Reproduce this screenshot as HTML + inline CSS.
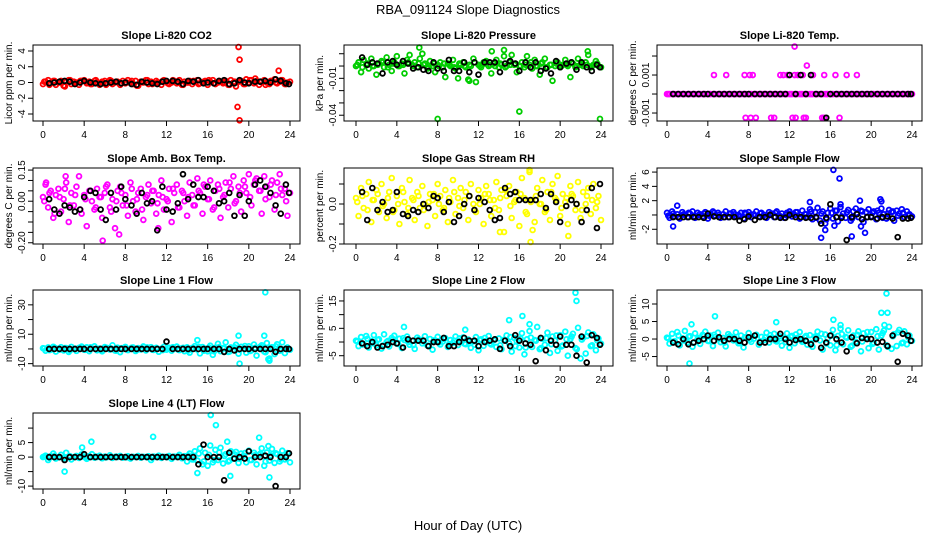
<!DOCTYPE html>
<html><head><meta charset="utf-8">
<style>
body{margin:0;background:#fff;}
svg{display:block;font-family:"Liberation Sans",sans-serif;}
</style></head>
<body>
<svg id="chart" width="936" height="540" viewBox="0 0 936 540" xmlns="http://www.w3.org/2000/svg">
<rect width="936" height="540" fill="#fff"/>
<text x="468" y="14" text-anchor="middle" font-size="13">RBA_091124  Slope Diagnostics</text>
<text x="468" y="530" text-anchor="middle" font-size="13">Hour of Day (UTC)</text>
<g id="panels"></g>
</svg>
<script>
// shared x data
const colorTimes = [0,0.25,0.5,0.75,1,1.25,1.5,1.75,2,2.25,2.5,2.75,3,3.25,3.5,3.75,4,4.25,4.5,4.75,5,5.25,5.5,5.75,6,6.25,6.5,6.75,7,7.25,7.5,7.75,8,8.25,8.5,8.75,9,9.25,9.5,9.75,10,10.25,10.5,10.75,11,11.25,11.5,11.75,12,12.25,12.5,12.75,13,13.25,13.5,13.75,14,14.25,14.5,14.75,15,15.25,15.5,15.75,16,16.25,16.5,16.75,17,17.25,17.5,17.75,18,18.25,18.5,18.75,19,19.25,19.5,19.75,20,20.25,20.5,20.75,21,21.25,21.5,21.75,22,22.25,22.5,22.75,23,23.25,23.5,23.75,24];
const colorTimes2 = [0.125,0.625,1.125,1.625,2.125,2.625,3.125,3.625,4.125,4.625,5.125,5.625,6.125,6.625,7.125,7.625,8.125,8.625,9.125,9.625,10.125,10.625,11.125,11.625,12.125,12.625,13.125,13.625,14.125,14.625,15.125,15.625,16.125,16.625,17.125,17.625,18.125,18.625,19.125,19.625,20.125,20.625,21.125,21.625,22.125,22.625,23.125,23.625];
const blackTimes = [0.6,1.1,1.6,2.1,2.6,3.1,3.6,4.0,4.6,5.1,5.6,6.1,6.6,7.1,7.6,8.0,8.6,9.1,9.6,10.1,10.6,11.1,11.6,12.0,12.6,13.1,13.6,14.1,14.6,15.1,15.6,16.0,16.6,17.1,17.6,18.1,18.6,19.1,19.6,20.0,20.6,21.1,21.6,22.1,22.6,23.1,23.6,23.9];
const xTicks = [0,4,8,12,16,20,24];

// Panel 1: CO2
const co2Color = [-0.2,0.1,0.3,-0.1,0.2,-0.3,0.0,0.2,-0.4,0.1,0.3,-0.2,0.1,0.0,-0.3,0.2,0.3,-0.1,0.1,-0.2,0.2,0.0,-0.3,0.1,0.2,-0.1,0.3,-0.2,0.0,0.1,-0.3,0.2,-0.1,0.3,0.0,-0.2,0.2,-0.4,0.1,0.0,0.3,-0.2,0.1,-0.1,0.2,0.0,-0.3,0.3,0.1,-0.2,0.0,0.2,-0.1,0.3,-0.3,0.1,0.0,0.2,-0.2,0.1,0.3,-0.1,0.0,0.2,-0.3,0.1,0.3,-0.2,0.0,0.1,-0.1,0.2,-0.3,0.3,0.0,-0.5,0.1,0.2,-0.2,0.4,0.0,0.3,-0.1,0.2,-0.3,0.1,0.3,0.0,-0.2,0.2,0.4,-0.1,0.1,0.3,-0.2,0.0,0.1];
const co2Color2 = [0.1,-0.3,0.2,0.0,-0.5,0.3,-0.1,0.2,0.1,-0.2,0.3,0.0,-0.3,0.2,0.1,-0.1,0.0,0.2,-0.4,0.1,0.3,-0.2,0.0,0.2,-0.1,0.3,0.1,-0.3,0.0,0.2,-0.2,0.1,0.3,-0.1,0.2,0.0,-0.3,0.1,0.2,-0.2,0.3,0.5,0.1,-0.3,0.2,0.0,0.3,-0.2];
const co2Black = [-0.1,0.0,0.1,0.2,0.1,-0.2,0.0,0.2,0.0,-0.1,-0.2,-0.1,0.0,0.1,-0.1,0.0,-0.2,-0.3,0.1,0.0,-0.1,-0.2,0.1,0.2,0.2,0.1,-0.2,0.2,0.1,0.3,-0.1,0.0,-0.1,0.2,0.3,-0.2,-0.1,0.3,0.0,-0.1,0.1,0.1,0.2,0.0,0.4,0.2,-0.1,-0.2];
const co2OutT = [19.0,19.1,18.9,19.1,22.9];
const co2OutV = [4.5,2.9,-3.1,-4.8,1.5];

// Panel 2: Pressure
const presColor = [0,0.003,-0.005,0.005,0.001,-0.002,0.006,0,-0.007,0.002,0.004,-0.001,0.007,0.001,-0.004,0.003,0.008,0,0.002,-0.006,0.005,0.009,0.001,0.003,-0.001,0.006,0.01,0.002,-0.002,0.004,0,-0.005,0.001,0.003,-0.001,-0.009,0.002,0,0.005,-0.002,-0.01,0.001,0.003,-0.001,-0.011,0,0.006,-0.013,0.001,-0.001,0.003,0.004,0,-0.006,0.002,0.005,-0.001,0.001,0.008,0,0.003,0.009,0.001,-0.005,0,0.003,-0.001,0.008,0.001,-0.002,0.005,0,-0.007,0.003,0.006,-0.001,0.001,-0.012,0,0.003,-0.001,0.001,0.005,0,-0.009,0.002,-0.001,0.006,0.001,0,0.003,0.009,-0.001,0.001,0.004,0,-0.001];
const presColor2 = [0.001,-0.001,0.002,0.0,0.001,0.003,-0.001,0.002,0.0,0.001,0.003,0.0,0.002,0.001,-0.001,0.002,0.0,0.002,0.001,-0.001,0.002,0.0,0.001,0.003,0.0,0.002,0.001,0.0,0.002,-0.001,0.001,0.002,0.0,0.001,0.003,0.0,0.002,-0.001,0.001,0.002,0.0,0.001,0.003,0.0,0.002,0.001,0.0,0.002];
const presBlack = [0.007,0.001,0.003,0.002,-0.006,0.003,0.004,0.001,0.004,0.002,-0.002,-0.001,-0.003,-0.004,0.003,-0.002,-0.004,0.005,-0.004,-0.004,0.003,-0.005,0.003,-0.007,0.003,0.003,0.003,-0.005,0.002,0.004,0.002,-0.004,0.003,-0.001,0.003,-0.004,-0.002,-0.006,0.004,-0.001,0.002,0.003,-0.003,0.003,-0.001,-0.004,0.001,-0.001];
const presOutT = [8.0,16.0,23.9,6.2,22.7,11.1,13.3,14.5];
const presOutV = [-0.043,-0.037,-0.043,0.015,0.012,-0.012,0.012,0.013];

// Panel 3: Li-820 Temp
const tempColor = [0,0,0,0,0,0,0,0,0,0,0,0,0,0,0,0,0,0,0,0,0,0,0,0,0,0,0,0,0,0,0,0,0,0,0,0,0,0,0,0,0,0,0,0,0,0,0,0,0,0,0,0,0,0,0,0,0,0,0,0,0,0,0,0,0,0,0,0,0,0,0,0,0,0,0,0,0,0,0,0,0,0,0,0,0,0,0,0,0,0,0,0,0,0,0,0,0];
const tempColor2 = [0,0,0,0,0,0,0,0,0,0,0,0,0,0,0,0,0,0,0,0,0,0,0,0,0,0,0,0,0,0,0,0,0,0,0,0,0,0,0,0,0,0,0,0,0,0,0,0];
const tempBlack = [0,0,0,0,0,0,0,0,0,0,0,0,0,0,0,0,0,0,0,0,0,0,0,0.001,0,0.001,0,0.001,0,0,-0.00125,0,0,0,0,0,0,0,0,0,0,0,0,0,0,0,0,0];
const tempOutT = [4.6,5.8,7.6,8.1,8.4,11.1,11.4,11.8,12.5,12.8,13.3,14.3,15.4,16.5,17.6,18.6,7.7,8.2,8.7,10.2,10.5,12.3,12.6,13.4,13.6,15.2,15.4,16.9,12.5,13.7];
const tempOutV = [0.001,0.001,0.001,0.001,0.001,0.001,0.001,0.001,0.001,0.001,0.001,0.001,0.001,0.001,0.001,0.001,-0.00125,-0.00125,-0.00125,-0.00125,-0.00125,-0.00125,-0.00125,-0.00125,-0.00125,-0.00125,-0.00125,-0.00125,0.0025,0.0015];

// Panel 4: Amb Box Temp
const ambColor = [0.02,0.08,-0.03,0.05,-0.08,0.03,0.06,-0.05,0.01,0.09,-0.1,0.04,-0.02,0.07,0.12,-0.06,0.03,-0.12,0.05,0.0,-0.04,0.06,0.02,-0.08,0.04,0.08,-0.03,0.01,-0.13,0.05,0.07,-0.02,0.03,-0.07,0.09,0.0,-0.05,0.04,0.06,-0.09,0.02,0.08,-0.01,0.05,-0.06,0.03,0.1,-0.04,0.01,0.06,-0.1,0.04,0.08,-0.03,0.05,0.0,-0.07,0.09,0.03,-0.02,0.11,0.04,-0.06,0.07,0.01,0.1,-0.04,0.05,0.08,-0.08,0.02,0.09,-0.03,0.06,0.12,0.0,0.07,-0.05,0.1,0.04,0.13,-0.02,0.08,0.11,0.05,-0.06,0.12,0.07,0.02,0.1,-0.04,0.09,0.13,0.03,0.06,-0.07,0.04];
const ambColor2 = [0.0,0.04,-0.06,0.02,0.06,-0.02,0.03,-0.04,0.01,0.05,-0.03,0.02,0.07,-0.05,0.0,0.04,-0.02,0.06,0.01,-0.04,0.03,0.05,-0.01,0.02,0.0,0.06,-0.03,0.04,0.02,-0.02,0.05,0.08,0.01,-0.03,0.06,0.03,0.09,-0.01,0.04,0.07,0.02,0.1,0.05,0.01,0.08,0.03,0.06,0.0];
const ambBlack = [0.01,-0.04,-0.06,-0.02,-0.03,-0.05,-0.04,0.02,0.05,0.04,-0.04,-0.09,0.04,-0.04,0.07,0.01,-0.02,-0.06,0.04,-0.01,0.0,-0.14,0.07,-0.04,-0.05,-0.01,0.13,0.01,0.08,0.02,0.02,0.07,0.05,-0.01,0.0,0.04,-0.07,0.03,-0.07,0.0,0.08,0.1,0.07,0.04,-0.02,-0.06,0.08,0.04];
const ambOutT = [5.8,7.4,2.2,0.3,11.2];
const ambOutV = [-0.19,-0.16,0.12,0.09,-0.13];

// Panel 5: Gas Stream RH
const rhColor = [0.03,-0.06,0.08,-0.02,0.05,0.11,-0.09,0.02,0.07,-0.04,0.1,0.0,-0.07,0.06,0.13,-0.03,0.04,-0.1,0.08,0.01,-0.05,0.12,0.03,-0.08,0.06,-0.02,0.09,0.0,-0.11,0.05,0.02,-0.06,0.1,0.04,-0.03,0.07,-0.09,0.01,0.12,-0.05,0.03,0.08,-0.02,0.06,-0.08,0.1,0.0,-0.04,0.07,0.03,-0.1,0.09,0.05,-0.06,0.02,0.11,-0.03,0.07,-0.14,0.04,0.09,-0.07,0.01,0.06,-0.11,0.13,0.03,-0.05,0.16,0.02,-0.09,0.08,0.0,0.12,-0.04,0.06,-0.08,0.1,0.03,0.14,-0.06,0.05,0.01,-0.1,0.09,0.04,-0.03,0.11,-0.07,0.06,0.0,0.08,-0.05,0.1,-0.02,0.04,-0.08];
const rhColor2 = [0.01,0.04,-0.03,0.02,0.05,-0.01,0.03,-0.04,0.0,0.06,-0.02,0.02,0.04,-0.03,0.01,0.05,0.0,-0.02,0.03,0.06,-0.01,0.02,0.04,-0.03,0.0,0.05,0.02,-0.02,0.03,0.07,-0.01,0.02,0.05,-0.04,0.01,0.04,0.0,-0.03,0.06,0.02,-0.02,0.03,0.05,0.0,-0.03,0.04,0.02,0.01];
const rhBlack = [0.06,-0.08,0.08,-0.03,0.01,-0.04,-0.03,0.06,-0.05,-0.06,-0.03,-0.04,0.0,-0.02,0.04,0.03,-0.04,0.01,-0.09,-0.06,0.0,0.04,-0.03,0.03,0.01,-0.03,-0.08,-0.07,0.08,0.05,0.06,0.02,0.02,0.02,0.02,0.05,-0.02,0.05,0.01,-0.09,-0.01,0.02,0.0,-0.09,-0.03,0.08,-0.12,0.1];
const rhOutT = [17.1,17.0,14.1,17.3,20.8];
const rhOutV = [-0.19,0.17,-0.14,-0.13,-0.16];

// Panel 6: Sample Flow
const sfColor = [0.3,-0.4,0.5,-0.2,0.1,-0.5,0.4,0.0,-0.3,0.2,0.5,-0.4,0.3,0.1,-0.2,0.4,-0.5,0.2,0.5,-0.1,0.3,-0.4,0.1,0.5,-0.3,0.2,0.4,-0.2,0.0,0.3,-0.5,0.2,0.4,-0.3,0.1,0.5,-0.2,0.3,0.0,-0.4,0.4,0.2,-0.3,0.5,-0.1,0.2,-0.4,0.3,0.5,-0.2,0.0,0.4,-0.5,0.6,0.1,-0.3,0.8,-0.6,0.4,1.0,-0.8,0.5,-1.2,0.3,0.9,-0.5,0.6,-0.9,1.1,0.2,-0.4,0.7,-0.8,0.5,0.9,-0.3,0.6,-1.0,0.4,0.8,-0.2,0.5,-0.6,0.3,0.9,0.1,-0.5,0.7,0.4,-0.8,0.6,0.2,0.8,-0.3,0.5,0.1,-0.2];
const sfColor2 = [-0.1,0.2,-0.3,0.1,0.3,-0.2,0.0,0.2,-0.1,0.3,0.0,-0.3,0.2,0.1,-0.2,0.3,0.0,-0.1,0.2,-0.3,0.1,0.3,-0.2,0.0,0.2,0.4,-0.3,0.1,0.5,-0.4,0.2,-0.6,0.3,0.6,-0.2,0.4,-0.5,0.2,0.5,-0.3,0.3,0.6,-0.4,0.2,0.5,-0.1,0.3,0.0];
const sfBlack = [-0.3,-0.3,-0.3,-0.3,-0.3,-0.3,-0.4,0.2,-0.2,-0.3,-0.3,-0.3,-0.3,-0.8,-0.6,-0.2,-0.7,-0.3,-0.3,0.0,-0.3,-0.4,-0.4,0.0,-0.3,-0.3,-0.4,-0.4,-0.3,-1.2,-0.4,1.5,-0.3,-0.4,-3.5,-0.3,0.1,-0.6,-0.3,-0.3,-0.5,-0.3,-0.2,-0.5,-3.1,-0.5,-0.5,-0.4];
const sfOutT = [16.3,16.9,15.1,17.0,18.1,1.0,0.6,14.0,18.9,20.9,21.0,19.0,15.5,16.4,19.4];
const sfOutV = [6.3,5.1,-3.2,1.5,-3.0,1.3,-1.6,1.8,2.0,2.2,1.9,-1.6,-2.1,-1.5,-2.5];

// Panel 7: Line 1 Flow
const l1Color = [0.5,-1.2,1.0,-0.5,1.5,-1.8,0.2,1.2,-1.0,0.6,-2.0,1.4,0.0,-1.3,0.8,1.6,-0.6,1.1,-1.5,0.4,1.8,-0.9,0.3,-1.6,1.3,0.7,-0.4,2.5,-1.1,0.9,-2.2,0.5,1.4,-0.8,0.1,1.0,-1.4,0.6,-0.3,1.7,-1.0,0.4,1.2,-0.7,0.8,-1.9,0.2,1.5,-0.5,0.9,-1.2,0.3,1.6,-0.8,0.5,-1.5,1.1,-2.5,0.7,1.9,-0.4,-3.0,1.3,0.2,-1.6,2.2,-4.0,0.8,3.5,-1.5,0.6,4.5,-2.0,1.0,-0.8,2.8,-3.2,1.5,0.4,-2.5,1.8,-1.0,3.0,-4.5,0.9,2.5,-1.8,4.0,-6.5,1.2,-3.5,3.2,-1.2,4.5,-2.8,1.0,-0.5];
const l1Color2 = [0.3,-0.8,0.9,-0.4,0.6,-1.0,0.2,0.8,-0.6,1.1,0.0,-0.9,0.7,0.3,-1.2,0.5,-0.3,0.9,-0.7,0.4,1.0,-0.5,0.2,-0.8,0.6,1.2,-0.4,0.8,-1.0,0.5,1.5,-1.2,0.9,-1.6,1.3,0.4,-1.8,1.1,-0.6,2.0,-1.4,0.8,1.6,-2.2,0.7,1.8,-1.0,0.5];
const l1Black = [0,0,0,0,0,0,0,0,0,0,0,0,0,0,0,0,0,0,0,0,0,0,0,5,0,0,0,0,0,0,0,0,0,0,-2,0,-1,0,0,0,0,0,0,0,-2,0,0,0];
const l1OutT = [21.6,19.0,21.5,15.0,19.1,22.0,21.9];
const l1OutV = [38.5,9,9,6,-10,-8,-7];

// Panel 8: Line 2 Flow
const l2Color = [0.5,-1.5,1.8,-0.8,2.2,-2.0,0.3,2.5,-1.2,1.0,-2.4,2.8,0.0,-1.6,1.5,2.3,-0.6,1.2,-2.2,0.7,2.0,-1.0,0.4,-2.5,1.6,0.8,-0.5,2.1,-1.3,1.1,-2.8,0.6,1.9,-0.9,0.2,1.4,-1.8,0.7,-0.3,2.0,-1.1,0.5,1.7,-0.8,0.9,-2.1,0.2,1.8,-3.0,1.0,-1.4,0.4,2.2,-0.9,0.6,-1.8,1.3,-2.6,0.8,2.4,-0.5,-3.5,1.5,0.3,-2.0,3.2,-4.5,1.0,4.0,-1.8,0.7,5.5,-2.6,1.2,-1.0,3.4,-4.0,2.0,0.5,-3.2,2.5,-1.3,3.8,-5.0,1.1,3.0,-2.2,5.2,-6.0,1.6,-4.2,3.5,-1.5,2.8,-3.0,1.3,-0.6];
const l2Color2 = [0.2,-0.9,1.2,-0.4,0.8,-1.3,0.4,1.0,-0.7,1.4,0.0,-1.1,0.9,0.3,-1.4,0.6,-0.2,1.1,-0.8,0.5,1.3,-0.6,0.2,-1.0,0.7,1.5,-0.5,1.0,-1.2,0.6,1.8,-1.5,1.2,-2.0,1.6,0.5,-2.2,1.4,-0.8,2.4,-1.6,1.0,2.0,-2.6,0.9,2.2,-1.2,0.6];
const l2Black = [-0.5,-1.5,0.0,-2.0,-1.5,-1.0,0.0,-0.5,-2.0,1.0,0.5,0.5,0.5,-1.5,0.0,0.0,1.5,-1.5,-1.5,0.0,1.5,0.5,0.5,-1.5,0.0,0.5,1.0,-2.5,0.5,-1.5,2.5,0.5,-0.5,-1.0,-7.0,1.5,-3.0,0.5,-1.0,2.0,-1.0,-1.0,-5.0,2.0,-7.5,2.5,1.5,-1.0];
const l2OutT = [21.5,21.6,16.3,15.0,4.7,10.7,17.0];
const l2OutV = [18,15,9.5,8,5.5,4.5,6.5];

// Panel 9: Line 3 Flow
const l3Color = [0.4,-1.3,1.5,-0.6,2.0,-1.8,0.2,2.3,-1.0,0.8,-2.2,1.6,0.0,-1.4,1.2,2.1,-0.5,1.0,-2.0,0.6,1.8,-0.9,0.3,-2.1,1.4,0.7,-0.4,1.9,-1.2,1.0,-2.4,0.5,1.7,-0.8,0.1,1.2,-1.6,0.6,-0.3,1.8,-1.0,0.4,1.5,-0.7,0.8,-1.9,0.2,1.6,-2.5,0.9,-1.2,0.3,2.0,-0.8,0.5,-1.6,1.1,-2.2,0.7,2.1,-0.4,-3.0,1.3,0.2,-1.8,2.6,-3.2,0.9,3.0,-1.5,0.6,2.5,-2.2,1.0,-0.8,2.2,-3.5,1.6,0.4,-2.6,2.0,-1.1,2.8,-3.0,1.0,2.4,-1.8,3.5,-2.8,1.4,-2.0,2.6,-1.2,2.2,-1.5,1.0,-0.5];
const l3Color2 = [0.2,-0.8,1.0,-0.4,0.7,-1.1,0.3,0.9,-0.6,1.2,0.0,-1.0,0.8,0.2,-1.2,0.5,-0.2,1.0,-0.7,0.4,1.1,-0.5,0.2,-0.9,0.6,1.3,-0.4,0.9,-1.1,0.5,1.5,-1.3,1.0,-1.7,1.4,0.4,-1.9,1.2,-0.7,2.0,-1.4,0.8,1.7,-2.2,0.8,1.9,-1.0,0.5];
const l3Black = [-1.0,-1.5,0.0,-1.5,-1.0,-0.5,0.0,1.0,-0.5,0.5,-0.5,0.0,0.0,-0.5,-1.0,0.5,1.0,-1.0,-1.0,0.0,0.0,1.5,0.0,-1.0,-0.3,0.0,-0.5,-1.5,0.0,-2.5,-1.0,1.0,0.0,-1.0,-3.5,0.5,-1.2,0.3,0.0,0.0,-1.0,-0.8,-2.0,1.0,-6.5,1.5,1.0,-0.5];
const l3OutT = [21.5,21.0,21.6,4.7,16.3,2.4,2.2,17.0,21.3,10.7];
const l3OutV = [13,7.5,7.5,6.5,5.5,4.2,-7,4,4,4.8];

// Panel 10: Line 4 (LT) Flow
const l4Color = [0,0.5,-1.0,0.3,1.2,-0.5,0.0,0.8,-0.4,1.5,0.2,-0.8,0.0,0.4,-0.3,0.9,0.1,-0.6,0.3,1.0,-0.2,0.0,0.5,-0.4,0.2,0.0,0.6,-0.3,0.1,0.0,0.4,-0.2,0.0,0.3,-0.5,0.1,0.0,0.4,-0.2,0.1,0.0,0.3,-1.0,0.2,0.0,0.5,-0.3,0.1,0.0,0.4,-0.6,0.2,0.0,0.8,-0.4,0.3,-1.5,1.2,-0.8,2.0,-1.2,3.0,-2.5,1.5,-3.0,4.0,-1.8,2.5,-1.0,3.2,-2.2,1.0,-1.5,2.0,-0.5,1.8,-2.0,1.2,0.5,-1.8,2.2,-1.0,1.5,-2.5,0.8,3.0,-3.0,1.6,-1.2,2.8,-2.0,1.0,-1.5,2.2,-0.8,1.4,-1.8];
const l4Color2 = [0.2,-0.3,0.4,0.0,-0.2,0.3,0.0,0.1,-0.2,0.0,0.2,0.0,-0.1,0.0,0.2,0.0,-0.1,0.0,0.1,0.0,0.0,-0.2,0.0,0.1,0.0,0.0,0.3,-0.2,0.5,-0.8,1.2,-1.5,0.8,-1.0,1.6,0.4,-1.2,0.9,-0.6,1.4,-1.0,0.7,1.2,-1.5,0.6,1.3,-0.8,0.4];
const l4Black = [0,0,0,-1,0,0,0,1,0,0,0,0,0,0,0,0,0,0,0,0,0,0,0,0,0,0,0,0,0,-2.5,4.3,0,0,0,-8,1.5,-0.5,0,-0.5,2,0,0,0.5,0,-10,0,0,1.3];
const l4OutT = [16.3,16.8,10.7,21.0,4.7,2.1,18.2,22.0,3.8,17.9,21.9,15.0];
const l4OutV = [14.5,11,7,6.7,5.3,-5,-6.5,-7,3.3,5.3,3.8,-5.5];

const panels = [
 {name:'co2',title:'Slope Li-820 CO2',ylab:'Licor ppm per min.',col:0,row:0,color:'#ff0000',ymin:-4.89,ymax:4.76,ticks:[-4,-2,0,2,4],labels:['-4','-2','0','2','4'],labelIdx:[0,1,2,3,4],c:co2Color,c2:co2Color2,b:co2Black,oT:co2OutT,oV:co2OutV},
 {name:'pressure',title:'Slope Li-820 Pressure',ylab:'kPa per min.',col:1,row:0,color:'#00cd00',ymin:-0.0447,ymax:0.0171,ticks:[-0.04,-0.03,-0.02,-0.01,0,0.01],labels:['-0.04','-0.01'],labelIdx:[0,3],c:presColor,c2:presColor2,b:presBlack,oT:presOutT,oV:presOutV},
 {name:'licor-temp',title:'Slope Li-820 Temp.',ylab:'degrees C per min.',col:2,row:0,color:'#ff00ff',ymin:-0.00142,ymax:0.00258,ticks:[-0.001,0,0.001,0.002],labels:['-0.001','0.001'],labelIdx:[0,2],c:tempColor,c2:tempColor2,b:tempBlack,oT:tempOutT,oV:tempOutV},
 {name:'amb-box-temp',title:'Slope Amb. Box Temp.',ylab:'degrees C per min.',col:0,row:1,color:'#ff00ff',ymin:-0.206,ymax:0.16,ticks:[-0.2,-0.15,-0.1,-0.05,0,0.05,0.1,0.15],labels:['-0.20','0.00','0.15'],labelIdx:[0,4,7],c:ambColor,c2:ambColor2,b:ambBlack,oT:ambOutT,oV:ambOutV},
 {name:'gas-rh',title:'Slope Gas Stream RH',ylab:'percent per min.',col:1,row:1,color:'#ffff00',ymin:-0.2,ymax:0.18,ticks:[-0.2,-0.1,0,0.1],labels:['-0.2','0.0'],labelIdx:[0,2],c:rhColor,c2:rhColor2,b:rhBlack,oT:rhOutT,oV:rhOutV},
 {name:'sample-flow',title:'Slope Sample Flow',ylab:'ml/min per min.',col:2,row:1,color:'#0000ff',ymin:-4.06,ymax:6.57,ticks:[-2,0,2,4,6],labels:['-2','2','4','6'],labelIdx:[0,2,3,4],c:sfColor,c2:sfColor2,b:sfBlack,oT:sfOutT,oV:sfOutV},
 {name:'line1-flow',title:'Slope Line 1 Flow',ylab:'ml/min per min.',col:0,row:2,color:'#00ffff',ymin:-11.6,ymax:40.1,ticks:[-10,0,10,20,30],labels:['-10','10','30'],labelIdx:[0,2,4],c:l1Color,c2:l1Color2,b:l1Black,oT:l1OutT,oV:l1OutV},
 {name:'line2-flow',title:'Slope Line 2 Flow',ylab:'ml/min per min.',col:1,row:2,color:'#00ffff',ymin:-8.76,ymax:19,ticks:[-5,0,5,10,15],labels:['-5','5','15'],labelIdx:[0,2,4],c:l2Color,c2:l2Color2,b:l2Black,oT:l2OutT,oV:l2OutV},
 {name:'line3-flow',title:'Slope Line 3 Flow',ylab:'ml/min per min.',col:2,row:2,color:'#00ffff',ymin:-7.7,ymax:14,ticks:[-5,0,5,10],labels:['-5','0','5','10'],labelIdx:[0,1,2,3],c:l3Color,c2:l3Color2,b:l3Black,oT:l3OutT,oV:l3OutV},
 {name:'line4-flow',title:'Slope Line 4 (LT) Flow',ylab:'ml/min per min.',col:0,row:3,color:'#00ffff',ymin:-11,ymax:15.2,ticks:[-10,-5,0,5,10],labels:['-10','0','5'],labelIdx:[0,2,3],c:l4Color,c2:l4Color2,b:l4Black,oT:l4OutT,oV:l4OutV}
];

const NS='http://www.w3.org/2000/svg';
const colLeft=[33,344,657], colW=[267,269,265], rowTop=[45,168,290,413], H=76, PADX=[10,12,10];
const root=document.getElementById('panels');
function mk(tag,attrs,parent){const e=document.createElementNS(NS,tag);for(const k in attrs)e.setAttribute(k,attrs[k]);parent.appendChild(e);return e;}

panels.forEach(p=>{
  const L=colLeft[p.col], W=colW[p.col], T=rowTop[p.row], B=T+H, R=L+W, pad=PADX[p.col];
  const xs=h=>L+pad+h/24*(W-2*pad);
  const ys=v=>T+(p.ymax-v)/(p.ymax-p.ymin)*H;
  const g=mk('g',{},root);
  
  
  const t=mk('text',{x:(L+R)/2,y:T-6,'text-anchor':'middle','font-size':'11','font-weight':'bold'},g);
  t.textContent=p.title;
  
  
  const yl=mk('text',{x:0,y:0,'text-anchor':'middle','font-size':'10',transform:`translate(${L-21},${(T+B)/2}) rotate(-90)`},g);
  yl.textContent=p.ylab;
  
  
  const pts=mk('g',{fill:'none',stroke:p.color,'stroke-width':'1.8'},g);
  
  
  p.c.forEach((v,i)=>{ if(i>=colorTimes.length)return;
    const c=mk('circle',{cx:xs(colorTimes[i]),cy:ys(v),r:2.4},pts);
    
    
  });
  p.c2.forEach((v,i)=>{ if(i>=colorTimes2.length)return;
    const c=mk('circle',{cx:xs(colorTimes2[i]),cy:ys(v),r:2.4},pts);
    
    
  });
  p.oT.forEach((h,i)=>{
    const c=mk('circle',{cx:xs(h),cy:ys(p.oV[i]),r:2.4},pts);
    
    
  });
  const bp=mk('g',{fill:'none',stroke:'#000','stroke-width':'1.8'},g);
  
  
  p.b.forEach((v,i)=>{ if(i>=blackTimes.length)return;
    const c=mk('circle',{cx:xs(blackTimes[i]),cy:ys(v),r:2.4},bp);
    
    
  });
  const box=mk('rect',{x:L,y:T,width:W,height:H,fill:'none',stroke:'#000','stroke-width':'1'},g);
  
  
  const xa=mk('g',{'font-size':'10','text-anchor':'middle'},g);
  
  
  xTicks.forEach(h=>{
    mk('line',{x1:xs(h),x2:xs(h),y1:B,y2:B+5,stroke:'#000'},xa);
    const tl=mk('text',{x:xs(h),y:B+17},xa); tl.textContent=h;
  });
  const ya=mk('g',{'font-size':'10','text-anchor':'middle'},g);
  
  
  p.ticks.forEach(v=>{
    mk('line',{x1:L-5,x2:L,y1:ys(v),y2:ys(v),stroke:'#000'},ya);
  });
  p.labelIdx.forEach((ti,k)=>{
    const tl=mk('text',{x:0,y:0,transform:`translate(${L-8},${ys(p.ticks[ti])}) rotate(-90)`},ya);
    tl.textContent=p.labels[k];
  });
});
</script>
</body></html>
